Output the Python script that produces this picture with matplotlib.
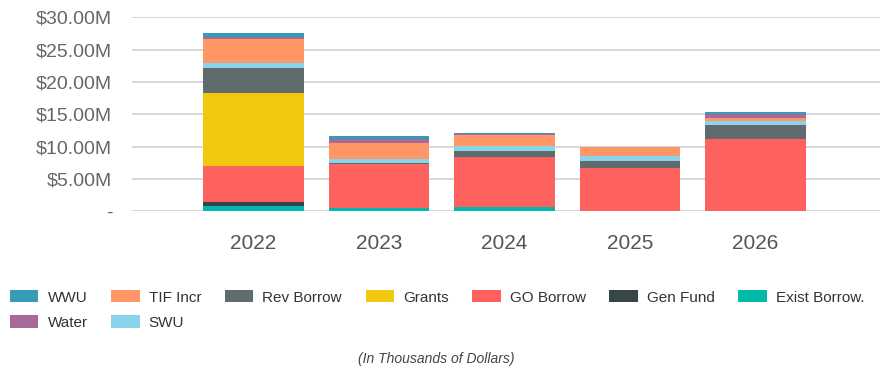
import matplotlib
matplotlib.use("Agg")
import matplotlib.pyplot as plt
from matplotlib.ticker import FuncFormatter
import numpy as np

plt.rcParams["font.family"] = ["Liberation Sans", "DejaVu Sans"]

# Funding by source, in $ millions, per fiscal year
years = ["2022", "2023", "2024", "2025", "2026"]

exist_borrow = [0.87, 0.46, 0.71, 0.00, 0.00]
gen_fund     = [0.53, 0.00, 0.00, 0.00, 0.00]
go_borrow    = [5.66, 6.80, 7.63, 6.74, 11.13]
grants       = [11.20, 0.00, 0.00, 0.00, 0.00]
rev_borrow   = [3.96, 0.15, 1.02, 1.03, 2.21]
swu          = [0.68, 0.62, 0.77, 0.82, 0.62]
tif_incr     = [3.70, 2.57, 1.60, 1.39, 0.51]
water        = [0.30, 0.57, 0.20, 0.00, 0.57]
wwu          = [0.70, 0.51, 0.15, 0.00, 0.26]

# stacking order, bottom to top
series = [
    ("Exist Borrow.", exist_borrow, "#01B8AA"),
    ("Gen Fund",      gen_fund,     "#374649"),
    ("GO Borrow",     go_borrow,    "#FD625E"),
    ("Grants",        grants,       "#F2C80F"),
    ("Rev Borrow",    rev_borrow,   "#5F6B6D"),
    ("SWU",           swu,          "#8AD4EB"),
    ("TIF Incr",      tif_incr,     "#FE9666"),
    ("Water",         water,        "#A66999"),
    ("WWU",           wwu,          "#3599B8"),
]
# legend fills column by column: first two columns hold two rows
legend_order = ["WWU", "Water", "TIF Incr", "SWU", "Rev Borrow", "Grants",
                "GO Borrow", "Gen Fund", "Exist Borrow."]

fig = plt.figure(figsize=(8.86, 3.75), dpi=100)
ax = fig.add_axes([0.1486, 0.4365, 0.8446, 0.5174])

x = np.arange(len(years))
bottom = np.zeros(len(years))
handles = {}
for name, vals, color in series:
    vals = np.array(vals)
    h = ax.bar(x, vals, width=0.8, bottom=bottom, color=color, label=name,
               linewidth=0, zorder=3)
    handles[name] = h
    bottom += vals

ax.set_xlim(-0.97, 4.99)
ax.set_ylim(0, 30)
ax.set_yticks(np.arange(0, 31, 5))
ax.yaxis.set_major_formatter(
    FuncFormatter(lambda v, p: "-" if v == 0 else f"${v:.2f}M"))
ax.set_xticks(x)
ax.set_xticklabels(years)

ax.grid(axis="y", color="#d4d4d4", linewidth=1.3, zorder=0)
for s in ax.spines.values():
    s.set_visible(False)
ax.tick_params(axis="y", length=0, pad=14, labelsize=14, labelcolor="#666666")
ax.tick_params(axis="x", length=0, pad=16, labelsize=15, labelcolor="#555555")

fig.legend([handles[n] for n in legend_order], legend_order,
           loc="upper left", bbox_to_anchor=(0.0113, 0.226), ncol=7,
           frameon=False, fontsize=11, handlelength=1.85, handleheight=0.85,
           handletextpad=0.6, columnspacing=1.55, labelspacing=0.7,
           borderpad=0, borderaxespad=0, labelcolor="#333333")

fig.text(0.492, 0.042, "(In Thousands of Dollars)", ha="center", va="center",
         fontsize=10, style="italic", color="#444444")

fig.savefig("out.png", dpi=100)
